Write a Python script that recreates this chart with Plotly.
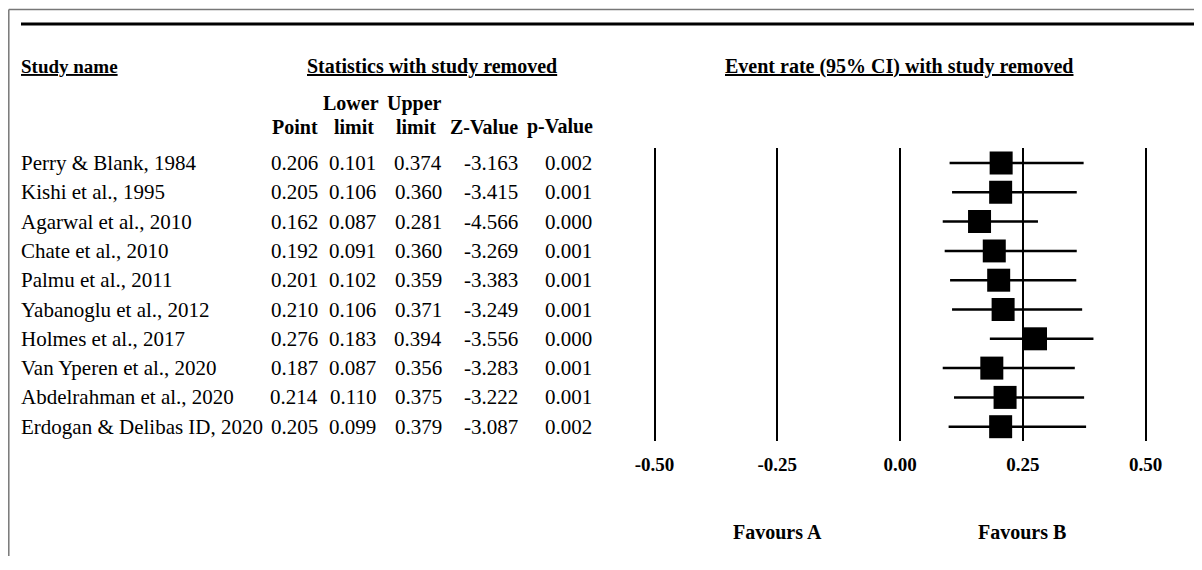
import plotly.graph_objects as go

# ---------------- data ----------------
studies = ["Perry & Blank, 1984", "Kishi et al., 1995", "Agarwal et al., 2010",
           "Chate et al., 2010", "Palmu et al., 2011", "Yabanoglu et al., 2012",
           "Holmes et al., 2017", "Van Yperen et al., 2020", "Abdelrahman et al., 2020",
           "Erdogan & Delibas ID, 2020"]
point = [0.206, 0.205, 0.162, 0.192, 0.201, 0.210, 0.276, 0.187, 0.214, 0.205]
lower = [0.101, 0.106, 0.087, 0.091, 0.102, 0.106, 0.183, 0.087, 0.110, 0.099]
upper = [0.374, 0.360, 0.281, 0.360, 0.359, 0.371, 0.394, 0.356, 0.375, 0.379]
zval = [-3.163, -3.415, -4.566, -3.269, -3.383, -3.249, -3.556, -3.283, -3.222, -3.087]
pval = [0.002, 0.001, 0.000, 0.001, 0.001, 0.001, 0.000, 0.001, 0.001, 0.002]
tick_vals = [-0.50, -0.25, 0.00, 0.25, 0.50]
tick_text = ["-0.50", "-0.25", "0.00", "0.25", "0.50"]

# ---------------- layout helpers ----------------
OFF = 8                      # page body margin of the browser
W, H = 1202 - OFF, 570 - 2 * OFF - 6
FONT = "Liberation Serif"
rows = list(range(len(studies)))

def px(x):
    return (x - OFF) / W

def py(y):
    return 1 - (y - OFF) / H

fig = go.Figure()
fig.add_trace(go.Scatter(
    x=point, y=rows, mode="markers",
    marker=dict(symbol="square", size=23, color="black"),
    error_x=dict(type="data", symmetric=False,
                 array=[u - p for u, p in zip(upper, point)],
                 arrayminus=[p - l for p, l in zip(point, lower)],
                 color="black", thickness=2.5, width=0),
    showlegend=False, hoverinfo="skip",
))

ann = []
def text(x, y, s, anchor="left", bold=False, size=21, yref="paper", underline=False):
    if underline:
        s = "<u>" + s + "</u>"
    if bold:
        s = "<b>" + s + "</b>"
    ann.append(dict(x=x, y=y, xref="paper", yref=yref, text=s, showarrow=False,
                    xanchor=anchor, yanchor="middle",
                    font=dict(family=FONT, size=size, color="black")))

# headers
text(px(19), py(66), "Study name", bold=True, size=19, underline=True)
text(px(432), py(66), "Statistics with study removed", anchor="center", bold=True, size=20, underline=True)
text(px(899), py(66), "Event rate (95% CI) with study removed", anchor="center", bold=True, size=20, underline=True)
text(px(381), py(103), "Lower", anchor="right", bold=True, size=20)
text(px(444), py(103), "Upper", anchor="right", bold=True, size=20)
for label, xr in [("Point", 320), ("limit", 376), ("limit", 438), ("Z-Value", 520), ("p-Value", 595)]:
    text(px(xr), py(127), label, anchor="right", bold=True, size=20)

# table rows
cols = [(point, 320), (lower, 378), (upper, 444), (zval, 520), (pval, 594)]
for i, name in enumerate(studies):
    text(px(19), i, name, yref="y")
    for arr, xr in cols:
        text(px(xr), i, f"{arr[i]:.3f}", anchor="right", yref="y")

text(px(777), py(532), "Favours A", anchor="center", bold=True, size=20)
text(px(1022), py(532), "Favours B", anchor="center", bold=True, size=20)

shapes = [
    dict(type="line", xref="paper", yref="paper", x0=px(8.8), x1=px(8.8), y0=py(9.5), y1=0,
         line=dict(color="#777", width=1.5)),
    dict(type="line", xref="paper", yref="paper", x0=px(8.8), x1=1, y0=py(9.5), y1=py(9.5),
         line=dict(color="#777", width=1.5)),
    dict(type="line", xref="paper", yref="paper", x0=px(21), x1=1, y0=py(24), y1=py(24),
         line=dict(color="black", width=3)),
]

# x axis: 491 px per unit, 0 at 900 px
half = 0.6
fig.update_layout(
    width=W, height=H, margin=dict(l=0, r=0, t=0, b=0),
    paper_bgcolor="white", plot_bgcolor="white",
    annotations=ann, shapes=shapes,
    xaxis=dict(range=[-half, half],
               domain=[px(900 - half * 491), px(900 + half * 491)],
               tickvals=tick_vals, ticktext=["<b>" + t + "</b>" for t in tick_text],
               showgrid=True, gridcolor="black", gridwidth=2,
               zeroline=False, showline=False, ticks="",
               ticklabelstandoff=10,
               tickfont=dict(family=FONT, size=19, color="black"),
               fixedrange=True),
    yaxis=dict(range=[(441 - 163) / 29.3, (148 - 163) / 29.3],
               domain=[py(441), py(148)],
               visible=False, showgrid=False, zeroline=False, fixedrange=True),
)

fig.write_html("out.html")
